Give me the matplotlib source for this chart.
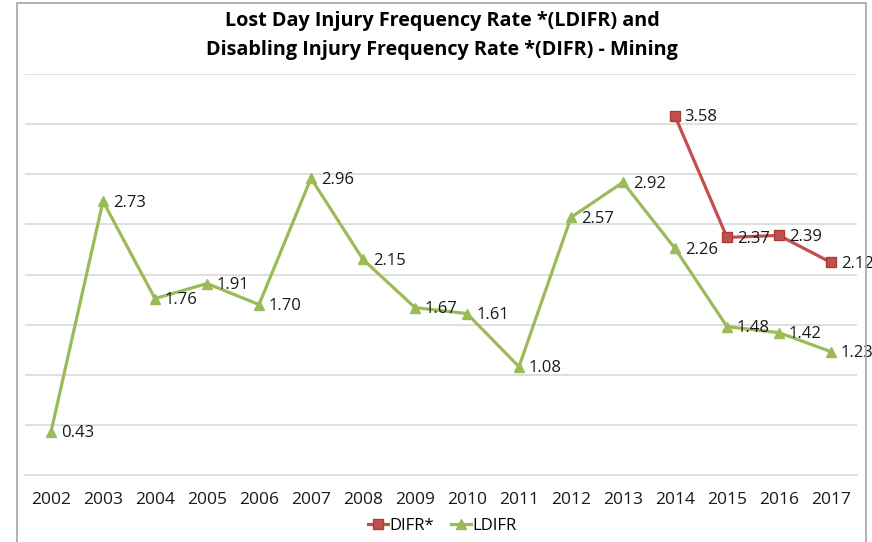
import numpy as np
import matplotlib.pyplot as plt
from matplotlib.patches import Rectangle

years = ['2002', '2003', '2004', '2005', '2006', '2007', '2008', '2009',
         '2010', '2011', '2012', '2013', '2014', '2015', '2016', '2017']
ldifr = [0.43, 2.73, 1.76, 1.91, 1.70, 2.96, 2.15, 1.67,
         1.61, 1.08, 2.57, 2.92, 2.26, 1.48, 1.42, 1.23]
difr_years = ['2014', '2015', '2016', '2017']
difr = [3.58, 2.37, 2.39, 2.12]

green = '#9BBB59'
red = '#C0504D'
font = 'Open Sans'

fig = plt.figure(figsize=(8.72, 5.42), dpi=100)
# outer chart frame
fig.patches.append(Rectangle((17 / 872, -0.01), (866 - 17) / 872, 1 - 3 / 542 + 0.01,
                             transform=fig.transFigure, fill=False,
                             edgecolor='#A6A6A6', linewidth=1.2))

ax = fig.add_axes([25 / 872, 1 - 475 / 542, (857 - 25) / 872, (475 - 74) / 542])
x = np.arange(len(years))
xd = [years.index(y) for y in difr_years]

ax.plot(xd, difr, color=red, linewidth=2.3, marker='s', markersize=7.5,
        markerfacecolor=red, markeredgecolor='#B03A37', label='DIFR*', zorder=4)
ax.plot(x, ldifr, color=green, linewidth=2.3, marker='^', markersize=7.5,
        markerfacecolor=green, markeredgecolor=green, label='LDIFR', zorder=3)

for xi, v in zip(x, ldifr):
    ax.annotate(f'{v:.2f}', (xi, v), xytext=(7, -1), textcoords='offset points',
                va='center', ha='left', fontsize=12, family=font, color='#1a1a1a')
for xi, v in zip(xd, difr):
    ax.annotate(f'{v:.2f}', (xi, v), xytext=(7, -1), textcoords='offset points',
                va='center', ha='left', fontsize=12, family=font, color='#1a1a1a', zorder=5)

ax.set_xlim(-0.5, len(years) - 0.5)
ax.set_ylim(0, 4)
ax.set_yticks(np.arange(0.5, 4.01, 0.5))
ax.yaxis.grid(True, color='#D9D9D9', linewidth=1.2)
ax.set_axisbelow(True)
ax.tick_params(axis='y', left=False, labelleft=False)
ax.tick_params(axis='x', bottom=False, pad=9)
ax.set_xticks(x)
ax.set_xticklabels(years, fontsize=12.5, family=font, color='#1a1a1a')
for s in ['top', 'left', 'right']:
    ax.spines[s].set_visible(False)
ax.spines['bottom'].set_color('#D9D9D9')
ax.spines['bottom'].set_linewidth(1.2)

fig.text(442 / 872, 1 - 21 / 542, 'Lost Day Injury Frequency Rate *(LDIFR) and',
         ha='center', va='center', fontsize=14.2, fontweight='bold', family=font)
fig.text(442 / 872, 1 - 50 / 542, 'Disabling Injury Frequency Rate *(DIFR) - Mining',
         ha='center', va='center', fontsize=14.2, fontweight='bold', family=font)

leg = fig.legend(loc='center', bbox_to_anchor=(442 / 872, 1 - 526 / 542), ncol=2,
                 frameon=False, handlelength=1.2, handletextpad=0.1, columnspacing=1.0,
                 prop={'family': font, 'size': 12})

fig.savefig('out.png', dpi=100)
